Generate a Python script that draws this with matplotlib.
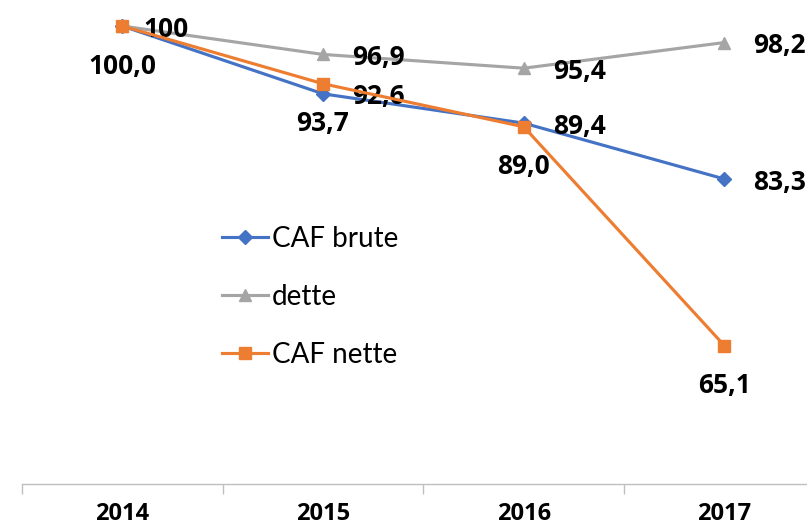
import matplotlib
matplotlib.use("Agg")
import matplotlib.pyplot as plt
from matplotlib.ticker import FixedLocator
import numpy as np

# ---- data ----
YEARS = ["2014", "2015", "2016", "2017"]
CAF_BRUTE = [100.0, 92.6, 89.4, 83.3]
DETTE = [100.0, 96.9, 95.4, 98.2]
CAF_NETTE = [100.0, 93.7, 89.0, 65.1]

LBL_BRUTE = [None, "92,6", "89,4", "83,3"]
LBL_DETTE = ["100", "96,9", "95,4", "98,2"]
LBL_NETTE = ["100,0", "93,7", "89,0", "65,1"]

BLUE, GRAY, ORANGE = "#4472C4", "#A5A5A5", "#ED7D31"
FONT = ["Lato", "DejaVu Sans"]
BOLD_FONT = ["Open Sans", "Noto Sans", "DejaVu Sans"]

plt.rcParams.update({"font.family": FONT})

W, H = 807, 530
fig = plt.figure(figsize=(W / 100, H / 100), dpi=100)

# axes placed in pixel terms: categories 200.7 px wide starting at x=22,
# y=50 on the axis line (px 484), y=100 at px 26
px_per_unit = (345 - 26) / (100 - 65.1)
y_top = 100 + 26 / px_per_unit
left, right = 22, 22 + 4 * 200.7
bottom_px = 484
ax = fig.add_axes([left / W, (H - bottom_px) / H, (right - left) / W,
                   bottom_px / H])
ax.set_xlim(-0.5, 3.5)
ax.set_ylim(50, y_top)

x = np.arange(len(YEARS))
ax.plot(x, CAF_BRUTE, color=BLUE, lw=2.25, marker="D", ms=7,
        label="CAF brute", clip_on=False, zorder=3)
ax.plot(x, DETTE, color=GRAY, lw=2.25, marker="^", ms=9,
        label="dette", clip_on=False, zorder=3)
ax.plot(x, CAF_NETTE, color=ORANGE, lw=2.25, marker="s", ms=8.5,
        label="CAF nette", clip_on=False, zorder=4)

# data labels: blue/gray to the right, orange below
lab_kw = dict(textcoords="offset pixels", fontsize=19, fontweight="bold",
              family=BOLD_FONT, color="black", annotation_clip=False)
for i, t in enumerate(LBL_BRUTE):
    if t:
        ax.annotate(t, (x[i], CAF_BRUTE[i]), xytext=(29, 0),
                    ha="left", va="center_baseline", **lab_kw)
for i, t in enumerate(LBL_DETTE):
    dx = 21 if i == 0 else 29
    ax.annotate(t, (x[i], DETTE[i]), xytext=(dx, 0),
                ha="left", va="center_baseline", **lab_kw)
for i, t in enumerate(LBL_NETTE):
    ax.annotate(t, (x[i], CAF_NETTE[i]), xytext=(0, -37),
                ha="center", va="center_baseline", **lab_kw)

# axis styling: only the category axis line with boundary ticks
for s in ("left", "right", "top"):
    ax.spines[s].set_visible(False)
ax.spines["bottom"].set_color("#BFBFBF")
ax.spines["bottom"].set_linewidth(1.0)
ax.set_yticks([])
ax.set_xticks(x)
ax.set_xticklabels(YEARS, fontsize=17, fontweight="bold", family=BOLD_FONT)
ax.tick_params(axis="x", which="major", length=0, pad=13)
ax.xaxis.set_minor_locator(FixedLocator(np.arange(-0.5, 4.0, 1.0)))
ax.tick_params(axis="x", which="minor", length=7, width=1.0,
               color="#BFBFBF", direction="out")

ax.legend(loc="upper left", bbox_to_anchor=(222 / W, 1 - 226 / H),
          bbox_transform=fig.transFigure, frameon=False, fontsize=20,
          handlelength=1.65, handletextpad=0.15, labelspacing=1.15,
          borderpad=0, borderaxespad=0)

fig.savefig("out.png", dpi=100)
